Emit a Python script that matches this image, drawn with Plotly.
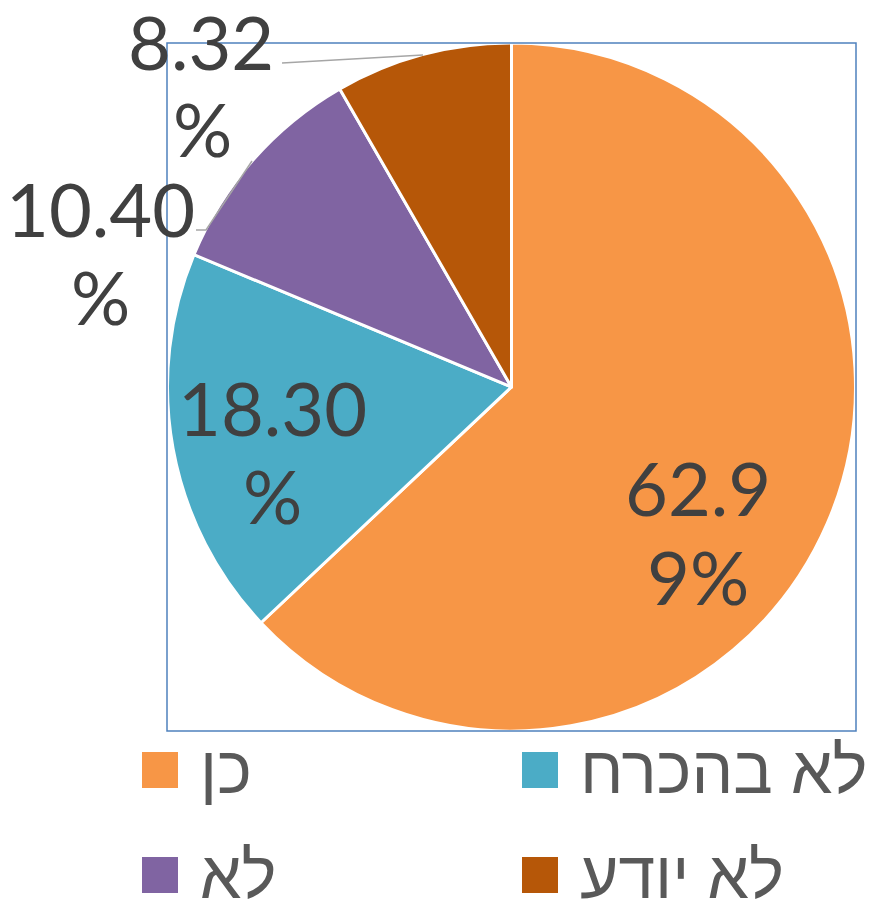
import plotly.graph_objects as go

labels = ["כן", "לא בהכרח", "לא", "לא יודע"]
values = [62.99, 18.30, 10.40, 8.32]
colors = ["#F79646", "#4BACC6", "#8064A2", "#B65708"]
# wrapped data-label lines as shown in the chart
label_lines = [["62.9", "9%"], ["18.30", "%"], ["10.40", "%"], ["8.32", "%"]]

W, H = 876, 902
OFF = 8  # page body margin
L, T = 167 - OFF, 43 - OFF
pw, ph = 689, 688
R, B = W - L - pw, H - T - ph

def px(x):
    return (x - OFF - L) / pw

def py(y):
    return (T + ph - (y - OFF)) / ph

fig = go.Figure(go.Pie(
    labels=labels, values=values, sort=False, direction="clockwise", rotation=0,
    marker=dict(colors=colors, line=dict(color="white", width=3)),
    textinfo="none", hoverinfo="skip", showlegend=False,
    domain=dict(x=[0, 1], y=[0, 1]),
))

# data label line centres (pixel positions in the picture)
label_pos = [[(698, 484), (698, 572)], [(272, 403), (272, 492)],
             [(100, 204), (100, 292)], [(201, 37), (202, 124)]]
tfont = dict(family="Lato, Open Sans, sans-serif", size=74, color="#404040")
for lines, poss in zip(label_lines, label_pos):
    for t, (x, y) in zip(lines, poss):
        fig.add_annotation(x=px(x), y=py(y + 4), xref="paper", yref="paper", text=t,
                           showarrow=False, font=tfont, xanchor="center", yanchor="middle")

shapes = [dict(type="rect", xref="paper", yref="paper", x0=0, x1=1, y0=0, y1=1,
               line=dict(color="#4F81BD", width=1.5))]
# leader lines
for pts in [[(282, 63), (423, 55)], [(196, 230), (206, 230), (252, 161)]]:
    path = "M " + " L ".join(f"{px(a)},{py(b)}" for a, b in pts)
    shapes.append(dict(type="path", xref="paper", yref="paper", path=path,
                       line=dict(color="#A6A6A6", width=1.5)))

# legend drawn manually
leg_pos = [(142, 770), (522, 770), (142, 875), (522, 875)]
lfont = dict(family="Liberation Sans, DejaVu Sans, sans-serif", size=66, color="#595959")
for lab, col, (x, y) in zip(labels, colors, leg_pos):
    shapes.append(dict(type="rect", xref="paper", yref="paper",
                       x0=px(x), x1=px(x + 36), y0=py(y + 18), y1=py(y - 18),
                       fillcolor=col, line=dict(width=0)))
    fig.add_annotation(x=px(x + 56), y=py(y), xref="paper", yref="paper", text=lab,
                       showarrow=False, font=lfont, xanchor="left", yanchor="middle")

fig.update_layout(
    width=W, height=H, margin=dict(l=L, r=R, t=T, b=B),
    paper_bgcolor="white", plot_bgcolor="white", shapes=shapes,
)
fig.write_html("out.html")
